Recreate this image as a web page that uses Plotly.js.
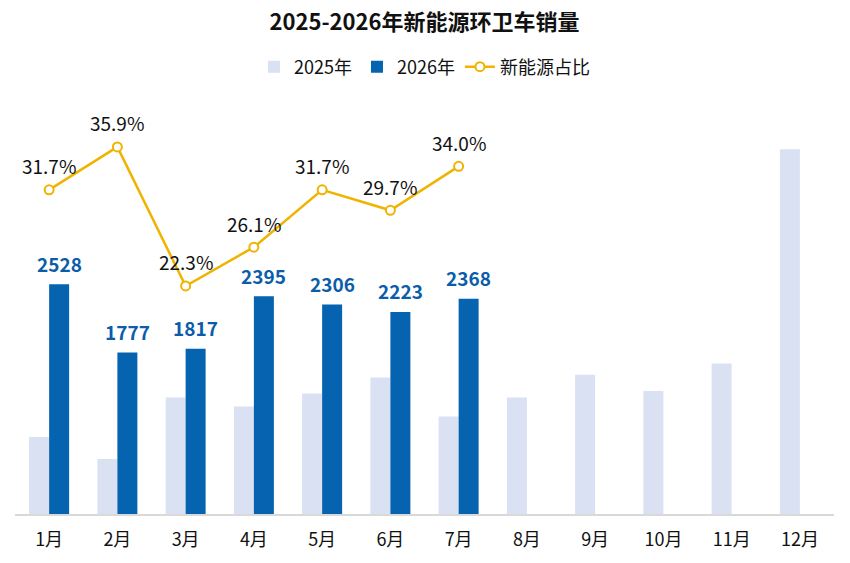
<!DOCTYPE html>
<html>
<head>
<meta charset="utf-8">
<script src="https://cdn.plot.ly/plotly-3.0.1.min.js"></script>
<style>html,body{margin:0;padding:0;background:#fff;}#chart{width:850px;height:563px;}</style>
</head>
<body>
<div id="chart"></div>
<script>
var months = ['1月','2月','3月','4月','5月','6月','7月','8月','9月','10月','11月','12月'];
var sales2025 = [846, 604, 1283, 1184, 1327, 1503, 1074, 1283, 1531, 1352, 1657, 4012];
var sales2026 = [2528, 1777, 1817, 2395, 2306, 2223, 2368, null, null, null, null, null];
var nevShare = [0.317, 0.359, 0.223, 0.261, 0.317, 0.297, 0.340, null, null, null, null, null];

var FONT = '"Noto Sans CJK SC", "Noto Sans", sans-serif';

var traces = [
  {
    type: 'bar', name: '2025年', x: months, y: sales2025,
    marker: {color: '#D9E1F3'}, hoverinfo: 'skip'
  },
  {
    type: 'bar', name: '2026年', x: months, y: sales2026,
    marker: {color: '#0563B0'}, hoverinfo: 'skip'
  },
  {
    type: 'scatter', name: '新能源占比', x: months, y: nevShare, yaxis: 'y2',
    mode: 'lines+markers',
    line: {color: '#EFB300', width: 2.5},
    marker: {color: '#FFFFFF', size: 9, line: {color: '#EFB300', width: 2}},
    hoverinfo: 'skip'
  }
];

var annotations = [];
months.forEach(function(m, i){
  if (sales2026[i] != null) {
    annotations.push({
      x: m, y: sales2026[i], xref: 'x', yref: 'y',
      text: String(sales2026[i]), showarrow: false,
      xanchor: 'center', yanchor: 'middle', xshift: 10, yshift: 21,
      font: {family: FONT, size: 19, color: '#0B5DAA', weight: 'bold'}
    });
  }
  if (nevShare[i] != null) {
    annotations.push({
      x: m, y: nevShare[i], xref: 'x', yref: 'y2',
      text: (nevShare[i]*100).toFixed(1) + '%', showarrow: false,
      xanchor: 'center', yanchor: 'middle', yshift: 24,
      font: {family: FONT, size: 19, color: '#111111'}
    });
  }
});

var layout = {
  width: 850, height: 563,
  paper_bgcolor: '#FFFFFF', plot_bgcolor: '#FFFFFF',
  margin: {l: 15, r: 16, t: 105, b: 49},
  font: {family: FONT, color: '#111111', size: 18},
  title: {
    text: '2025-2026年新能源环卫车销量',
    font: {family: FONT, size: 22, color: '#111111', weight: 'bold'},
    x: 0.5, xanchor: 'center', xref: 'paper',
    y: 1 - 22/563, yref: 'container', yanchor: 'middle'
  },
  showlegend: true,
  legend: {
    orientation: 'h', x: 0.5, xanchor: 'center', y: 1 + (105-67)/409, yanchor: 'middle',
    font: {family: FONT, size: 18, color: '#111111'},
    traceorder: 'normal', itemwidth: 30
  },
  annotations: annotations,
  barmode: 'group', bargap: 0.414, bargroupgap: 0,
  xaxis: {
    type: 'category', range: [-0.5, 11.5], autorange: false,
    showline: true, linecolor: '#D9D9D9', linewidth: 1.5,
    ticks: '', ticklabelstandoff: 9, showgrid: false, zeroline: false,
    tickfont: {family: FONT, size: 18, color: '#111111'}
  },
  yaxis: {range: [0, 4500], visible: false, showgrid: false, zeroline: false},
  yaxis2: {range: [0, 0.40], overlaying: 'y', side: 'right', visible: false, showgrid: false, zeroline: false}
};

Plotly.newPlot('chart', traces, layout, {displayModeBar: false, staticPlot: true});
</script>
</body>
</html>
